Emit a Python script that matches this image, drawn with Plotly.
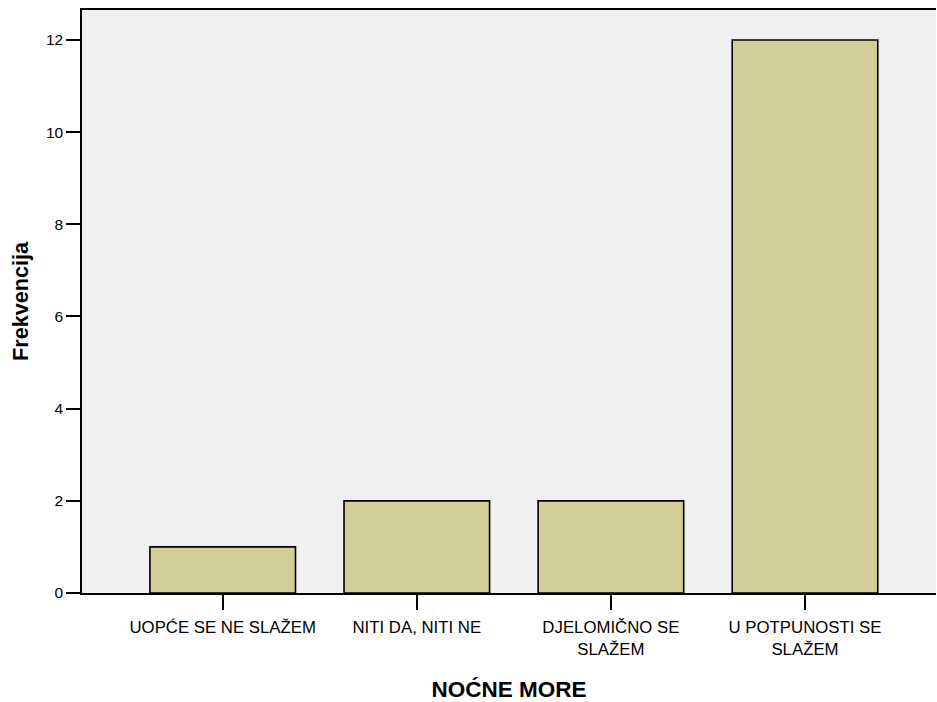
import plotly.graph_objects as go

categories = ["UOPĆE SE NE SLAŽEM", "NITI DA, NITI NE", "DJELOMIČNO SE<br>SLAŽEM", "U POTPUNOSTI SE<br>SLAŽEM"]
frequencies = [1, 2, 2, 12]
y_ticks = [0, 2, 4, 6, 8, 10, 12]

fig = go.Figure()
fig.add_trace(go.Bar(
    x=list(range(len(categories))),
    y=frequencies,
    width=0.75,
    marker=dict(color="#D3CE97", line=dict(color="#000000", width=1.6)),
    hoverinfo="skip",
))

fig.update_layout(
    width=937, height=702,
    margin=dict(l=82, r=1, t=10, b=109),
    paper_bgcolor="white",
    plot_bgcolor="#F0F0F0",
    font=dict(family="Liberation Sans, Arial, sans-serif", color="#000000", size=16),
    showlegend=False,
    xaxis=dict(
        range=[-0.725, 3.675],
        tickmode="array",
        tickvals=list(range(len(categories))),
        ticktext=categories,
        ticks="outside", ticklen=15, tickwidth=1.5, tickcolor="#000000",
        ticklabelstandoff=3,
        showgrid=False, zeroline=False,
        showline=True, linecolor="#000000", linewidth=1.5, mirror=True,
        title=dict(text="<b>NOĆNE MORE</b>", font=dict(size=22.5), standoff=26),
        tickfont=dict(size=16.8),
    ),
    yaxis=dict(
        range=[0, 12.65],
        tickmode="array",
        tickvals=y_ticks,
        ticks="outside", ticklen=14, tickwidth=1.5, tickcolor="#000000",
        showgrid=False, zeroline=False,
        showline=True, linecolor="#000000", linewidth=1.5, mirror=False,
        title=dict(text="<b>Frekvencija</b>", font=dict(size=21.6), standoff=11),
        tickfont=dict(size=15.5),
    ),
)

fig.write_html(
    "out.html",
    config={"displayModeBar": False},
    post_script="document.body.style.margin='0';document.body.style.overflow='hidden';",
)
